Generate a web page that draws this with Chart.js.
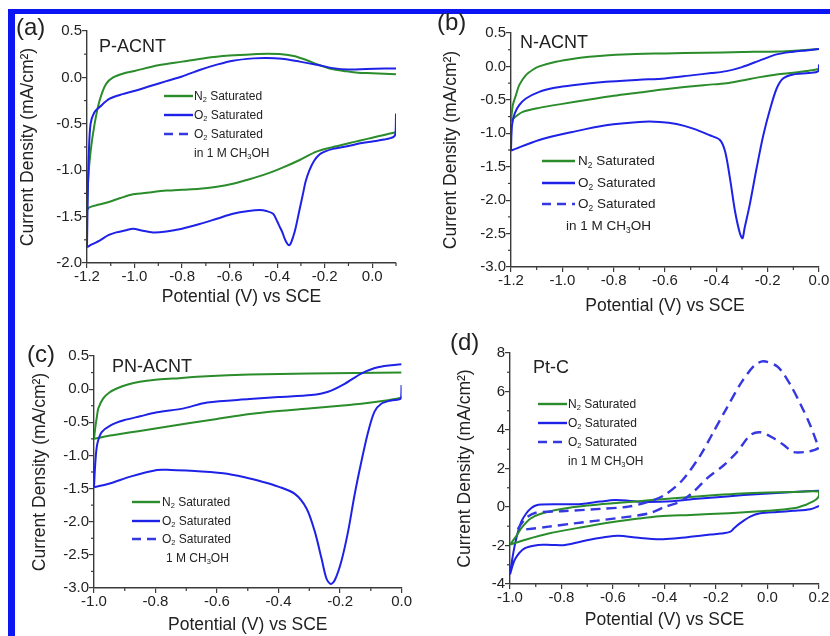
<!DOCTYPE html>
<html>
<head>
<meta charset="utf-8">
<script src="https://cdn.jsdelivr.net/npm/chart.js@4.4.1/dist/chart.umd.min.js"></script>
<style>
  html, body { margin: 0; padding: 0; background: #fff; }
  body { width: 830px; height: 636px; position: relative; overflow: hidden;
         font-family: "Liberation Sans", Arial, sans-serif; color: #222; }
  #frame { position: absolute; left: 8px; top: 9px; width: 822px; height: 627px; box-sizing: border-box;
           border-top: 5px solid #0c16f5; border-left: 7px solid #0c16f5; }
  canvas { position: absolute; }
  .lbl { position: absolute; line-height: 1; white-space: nowrap; }
  .lbl sub { font-size: 0.62em; vertical-align: -0.3em; line-height: 0; }
  .leg-line { position: absolute; }
</style>
</head>
<body>
<div id="frame"></div>
<canvas id="pa" width="386" height="293" style="left:18px;top:15px"></canvas>
<canvas id="pb" width="389" height="299" style="left:441px;top:18px"></canvas>
<canvas id="pc" width="382" height="296" style="left:30px;top:340px"></canvas>
<canvas id="pd" width="375" height="294" style="left:455px;top:337px"></canvas>

<script>
// ---- data (potential V vs SCE, current density mA/cm2) ----
// each loop: forward (anodic) sweep first, then the return sweep

// (a) P-ACNT
const aN2V = [-1.2, -1.195, -1.185, -1.168, -1.147, -1.12, -1.09, -1.05, -1.0, -0.9, -0.8, -0.7, -0.6, -0.5, -0.44, -0.38, -0.33, -0.28, -0.23, -0.17, -0.12, -0.06, 0.0, 0.05, 0.1,
              0.1, 0.05, 0.0, -0.05, -0.1, -0.165, -0.235, -0.305, -0.375, -0.445, -0.52, -0.586, -0.66, -0.726, -0.8, -0.866, -0.94, -1.006, -1.06, -1.105, -1.15, -1.19, -1.2];
const aN2J = [-1.43, -1.1, -0.8, -0.5, -0.25, -0.07, 0.0, 0.04, 0.07, 0.13, 0.17, 0.21, 0.235, 0.25, 0.255, 0.25, 0.23, 0.19, 0.14, 0.09, 0.07, 0.05, 0.045, 0.04, 0.035,
              -0.59, -0.62, -0.65, -0.68, -0.71, -0.75, -0.8, -0.89, -0.97, -1.04, -1.1, -1.145, -1.18, -1.2, -1.21, -1.22, -1.24, -1.26, -1.3, -1.34, -1.37, -1.4, -1.43];
const aO2V = [-1.2, -1.197, -1.192, -1.185, -1.17, -1.147, -1.105, -1.05, -1.006, -0.93, -0.866, -0.8, -0.726, -0.65, -0.586, -0.5, -0.445, -0.38, -0.305, -0.24, -0.165, -0.1, -0.025, 0.05, 0.1,
              0.1, 0.098, 0.09, 0.05, 0.0, -0.05, -0.1, -0.165, -0.2, -0.222, -0.245, -0.264, -0.28, -0.291, -0.302, -0.312, -0.323, -0.333, -0.343, -0.35, -0.358, -0.368, -0.378, -0.389, -0.4, -0.417, -0.445, -0.473, -0.52, -0.586, -0.65, -0.726, -0.8, -0.866, -0.922, -0.97, -1.006, -1.04, -1.077, -1.11, -1.147, -1.18, -1.2];
const aO2J = [-1.83, -1.3, -0.8, -0.5, -0.38, -0.32, -0.23, -0.18, -0.15, -0.09, -0.04, 0.01, 0.08, 0.14, 0.18, 0.205, 0.21, 0.2, 0.17, 0.14, 0.1, 0.085, 0.09, 0.095, 0.095,
              -0.39, -0.6, -0.64, -0.67, -0.69, -0.71, -0.74, -0.77, -0.8, -0.83, -0.9, -1.0, -1.12, -1.25, -1.38, -1.5, -1.63, -1.72, -1.79, -1.81, -1.79, -1.74, -1.67, -1.61, -1.55, -1.47, -1.44, -1.43, -1.44, -1.47, -1.52, -1.58, -1.63, -1.66, -1.67, -1.65, -1.63, -1.65, -1.67, -1.7, -1.76, -1.8, -1.83];
const aXTicks = [-1.2, -1.0, -0.8, -0.6, -0.4, -0.2, 0.0];
const aYTicks = [-2.0, -1.5, -1.0, -0.5, 0.0, 0.5];

// (b) N-ACNT
const bN2V = [-1.2, -1.197, -1.193, -1.18, -1.168, -1.142, -1.115, -1.09, -1.025, -0.95, -0.895, -0.765, -0.6, -0.45, -0.3, -0.15, -0.08, 0.0,
              0.0, -0.05, -0.1, -0.165, -0.23, -0.3, -0.36, -0.45, -0.6, -0.7, -0.8, -0.9, -1.0, -1.09, -1.154, -1.185, -1.2];
const bN2J = [-0.82, -0.7, -0.58, -0.42, -0.28, -0.13, -0.05, 0.0, 0.07, 0.12, 0.145, 0.18, 0.195, 0.205, 0.215, 0.225, 0.24, 0.26,
              -0.04, -0.07, -0.095, -0.12, -0.16, -0.21, -0.25, -0.28, -0.34, -0.39, -0.44, -0.5, -0.56, -0.62, -0.68, -0.76, -0.82];
const bO2V = [-1.2, -1.198, -1.195, -1.185, -1.168, -1.142, -1.09, -1.03, -0.96, -0.83, -0.7, -0.6, -0.49, -0.42, -0.36, -0.3, -0.23, -0.165, -0.1, -0.05, 0.0,
              0.0, -0.002, -0.04, -0.1, -0.14, -0.165, -0.19, -0.217, -0.243, -0.27, -0.29, -0.298, -0.308, -0.327, -0.347, -0.366, -0.386, -0.425, -0.49, -0.555, -0.62, -0.7, -0.83, -0.96, -1.09, -1.2];
const bO2J = [-1.26, -1.0, -0.85, -0.7, -0.58, -0.48, -0.38, -0.32, -0.28, -0.23, -0.2, -0.18, -0.13, -0.1, -0.07, -0.01, 0.09, 0.18, 0.22, 0.24, 0.26,
              0.03, -0.07, -0.1, -0.12, -0.18, -0.33, -0.63, -1.03, -1.52, -2.07, -2.42, -2.57, -2.5, -2.17, -1.67, -1.27, -1.1, -1.03, -0.93, -0.86, -0.83, -0.83, -0.88, -0.98, -1.1, -1.26];
const bXTicks = [-1.2, -1.0, -0.8, -0.6, -0.4, -0.2, 0.0];
const bYTicks = [-3.0, -2.5, -2.0, -1.5, -1.0, -0.5, 0.0, 0.5];

// (c) PN-ACNT
const cN2V = [-1.0, -0.995, -0.99, -0.986, -0.97, -0.95, -0.926, -0.89, -0.851, -0.8, -0.743, -0.634, -0.494, -0.3, -0.15, 0.0,
              0.0, -0.05, -0.131, -0.2, -0.293, -0.4, -0.5, -0.6, -0.688, -0.77, -0.851, -0.92, -0.96, -1.0];
const cN2J = [-0.75, -0.55, -0.4, -0.29, -0.14, -0.05, 0.01, 0.07, 0.11, 0.14, 0.16, 0.195, 0.22, 0.235, 0.245, 0.25,
              -0.13, -0.17, -0.22, -0.25, -0.29, -0.33, -0.38, -0.45, -0.51, -0.57, -0.63, -0.68, -0.71, -0.75];
const cO2V = [-1.0, -0.997, -0.993, -0.988, -0.975, -0.946, -0.903, -0.85, -0.795, -0.708, -0.632, -0.494, -0.4, -0.293, -0.239, -0.185, -0.131, -0.077, 0.0,
              0.0, -0.002, -0.034, -0.066, -0.088, -0.109, -0.131, -0.153, -0.174, -0.196, -0.217, -0.23, -0.244, -0.26, -0.282, -0.309, -0.347, -0.401, -0.45, -0.51, -0.58, -0.688, -0.75, -0.795, -0.882, -0.946, -1.0];
const cO2J = [-1.48, -1.2, -0.95, -0.8, -0.65, -0.545, -0.47, -0.41, -0.35, -0.29, -0.2, -0.15, -0.12, -0.09, -0.04, 0.08, 0.235, 0.33, 0.375,
              0.06, -0.14, -0.17, -0.22, -0.34, -0.65, -1.1, -1.6, -2.15, -2.6, -2.88, -2.94, -2.86, -2.56, -2.15, -1.8, -1.58, -1.47, -1.4, -1.33, -1.27, -1.23, -1.22, -1.22, -1.32, -1.42, -1.48];
const cXTicks = [-1.0, -0.8, -0.6, -0.4, -0.2, 0.0];
const cYTicks = [-3.0, -2.5, -2.0, -1.5, -1.0, -0.5, 0.0, 0.5];

// (d) Pt-C
const dN2V = [-1.0, -0.975, -0.956, -0.92, -0.88, -0.8, -0.7, -0.6, -0.5, -0.4, -0.3, -0.2, -0.1, 0.0, 0.1, 0.2,
              0.2, 0.19, 0.17, 0.15, 0.1, 0.0, -0.15, -0.3, -0.42, -0.5, -0.6, -0.72, -0.85, -0.94, -1.0];
const dN2J = [-1.95, -1.5, -1.1, -0.6, -0.35, -0.1, 0.08, 0.2, 0.3, 0.42, 0.52, 0.62, 0.7, 0.75, 0.78, 0.8,
              0.6, 0.4, 0.25, 0.12, -0.07, -0.2, -0.32, -0.41, -0.48, -0.6, -0.78, -1.05, -1.38, -1.7, -1.95];
const dO2V = [-1.0, -0.99, -0.975, -0.956, -0.935, -0.917, -0.9, -0.878, -0.8, -0.723, -0.65, -0.593, -0.54, -0.49, -0.42, -0.37, -0.287, -0.157, -0.028, 0.1, 0.2,
              0.2, 0.166, 0.1, 0.037, -0.028, -0.067, -0.106, -0.13, -0.144, -0.18, -0.222, -0.3, -0.352, -0.417, -0.5, -0.579, -0.64, -0.696, -0.786, -0.84, -0.89, -0.942, -0.98, -1.0];
const dO2J = [-3.5, -2.6, -1.6, -0.76, -0.3, -0.05, 0.08, 0.13, 0.14, 0.16, 0.28, 0.36, 0.33, 0.27, 0.27, 0.3, 0.41, 0.55, 0.68, 0.78, 0.85,
              0.05, -0.12, -0.2, -0.26, -0.33, -0.5, -0.84, -1.1, -1.28, -1.38, -1.43, -1.55, -1.62, -1.67, -1.6, -1.49, -1.58, -1.71, -1.97, -1.97, -1.97, -2.14, -2.7, -3.5];
const dMeV = [-0.97, -0.94, -0.9, -0.8, -0.65, -0.54, -0.46, -0.4, -0.33, -0.26, -0.21, -0.16, -0.1, -0.05, -0.015, 0.04, 0.09, 0.13, 0.166, 0.19, 0.2,
              0.18, 0.15, 0.1, 0.063, 0.024, -0.028, -0.067, -0.118, -0.17, -0.235, -0.287, -0.34, -0.4, -0.46, -0.59, -0.75, -0.85, -0.93, -0.97];
const dMeJ = [-1.15, -0.6, -0.3, -0.22, -0.1, 0.02, 0.28, 0.62, 1.4, 2.7, 3.9, 5.1, 6.5, 7.36, 7.57, 7.28, 6.32, 5.29, 4.25, 3.4, 3.1,
              2.95, 2.86, 2.86, 3.22, 3.57, 3.88, 3.73, 2.86, 2.17, 1.49, 0.79, 0.27, 0.0, -0.33, -0.59, -0.85, -1.02, -1.15, -1.15];
const dXTicks = [-1.0, -0.8, -0.6, -0.4, -0.2, 0.0, 0.2];
const dYTicks = [-4, -2, 0, 2, 4, 6, 8];

// ---- styling ----
const FONT = '"Liberation Sans", Arial, sans-serif';
const GREEN = '#2a8c2a';
const BLUE = '#1e22e6';
const DASHBLUE = '#3538e0';
const AXIS = '#3a3a3a';
const TEXT = '#222';

// zip potentials and currents; if brk is given the line is broken there
// (the trace is not drawn across the turning point at the positive end)
function pts(v, j, brk) {
  const out = v.map((x, i) => ({ x: x, y: j[i] }));
  if (brk) out.splice(brk, 0, { x: null, y: null });
  return out;
}

// short minor ticks half way between the labelled ones
const minorTicks = {
  id: 'minorTicks',
  afterDraw(chart) {
    const ctx = chart.ctx;
    ctx.save();
    ctx.strokeStyle = AXIS;
    ctx.lineWidth = 1.2;
    ['x', 'y'].forEach(k => {
      const s = chart.scales[k];
      const t = s.ticks.map(o => o.value);
      const step = t[1] - t[0];
      for (let v = t[0] - step / 2; v <= s.max + 1e-9; v += step) {
        if (v < s.min - 1e-9) continue;
        const p = s.getPixelForValue(v);
        ctx.beginPath();
        if (k === 'x') { ctx.moveTo(p, s.top); ctx.lineTo(p, s.top + 3); }
        else { ctx.moveTo(s.right, p); ctx.lineTo(s.right - 3, p); }
        ctx.stroke();
      }
    });
    ctx.restore();
  }
};

function line(data, color, dash) {
  return {
    data: data, showLine: true, spanGaps: false, borderColor: color, backgroundColor: color,
    borderWidth: dash ? 2.4 : 2, borderDash: dash || [], pointRadius: 0, tension: 0.3, fill: false
  };
}

function panel(id, box, xr, yr, xt, yt, ydec, sets) {
  new Chart(document.getElementById(id), {
    type: 'scatter',
    data: { datasets: sets },
    options: {
      responsive: false,
      animation: false,
      layout: { padding: { top: box.padTop, right: box.padRight, left: 0, bottom: 0 } },
      plugins: { legend: { display: false }, tooltip: { enabled: false } },
      scales: {
        x: {
          type: 'linear', min: xr[0], max: xr[1],
          afterBuildTicks: s => { s.ticks = xt.map(v => ({ value: v })); },
          afterFit: s => { s.height = box.xH; },
          grid: { drawOnChartArea: false, drawTicks: true, tickLength: 5, color: AXIS, lineWidth: 1.2 },
          border: { display: true, color: AXIS, width: 1.4 },
          ticks: { color: TEXT, font: { family: FONT, size: 15 }, padding: 0, autoSkip: false, maxRotation: 0,
                   callback: v => v.toFixed(1) },
          title: { display: true, text: 'Potential (V) vs SCE', color: TEXT, font: { family: FONT, size: 17.5 }, padding: 0 }
        },
        y: {
          type: 'linear', min: yr[0], max: yr[1],
          afterBuildTicks: s => { s.ticks = yt.map(v => ({ value: v })); },
          afterFit: s => { s.width = box.yW; },
          grid: { drawOnChartArea: false, drawTicks: true, tickLength: 5, color: AXIS, lineWidth: 1.2 },
          border: { display: true, color: AXIS, width: 1.4 },
          ticks: { color: TEXT, font: { family: FONT, size: 15 }, padding: 0, autoSkip: false,
                   callback: v => v.toFixed(ydec) },
          title: { display: true, text: 'Current Density (mA/cm²)', color: TEXT, font: { family: FONT, size: 17.5 }, padding: 0 }
        }
      }
    },
    plugins: [minorTicks]
  });
}

panel('pa', { padTop: 16, padRight: 8, yW: 69, xH: 45 }, [-1.2, 0.1], [-2.0, 0.5], aXTicks, aYTicks, 1, [
  line(pts(aO2V, aO2J, 25), BLUE),
  line(pts(aN2V, aN2J, 25), GREEN)
]);
panel('pb', { padTop: 15, padRight: 11, yW: 70, xH: 50 }, [-1.2, 0.0], [-3.0, 0.5], bXTicks, bYTicks, 1, [
  line(pts(bO2V, bO2J, 21), BLUE),
  line(pts(bN2V, bN2J, 18), GREEN)
]);
panel('pc', { padTop: 16, padRight: 10, yW: 64, xH: 48 }, [-1.0, 0.0], [-3.0, 0.5], cXTicks, cYTicks, 1, [
  line(pts(cO2V, cO2J, 19), BLUE),
  line(pts(cN2V, cN2J, 16), GREEN)
]);
panel('pd', { padTop: 16, padRight: 11, yW: 55, xH: 47 }, [-1.0, 0.2], [-4, 8], dXTicks, dYTicks, 0, [
  line(pts(dMeV, dMeJ), DASHBLUE, [10, 6]),
  line(pts(dN2V, dN2J), GREEN),
  line(pts(dO2V, dO2J, 21), BLUE)
]);

// ---- text overlays: panel letters, sample names, legends ----
function label(html, left, baseline, size) {
  const d = document.createElement('div');
  d.className = 'lbl';
  d.style.left = left + 'px';
  d.style.top = (baseline - 0.8465 * size) + 'px';
  d.style.fontSize = size + 'px';
  d.innerHTML = html;
  document.body.appendChild(d);
}

function legendLine(x0, x1, y, color, dashed) {
  const s = document.createElementNS('http://www.w3.org/2000/svg', 'svg');
  s.setAttribute('class', 'leg-line');
  s.setAttribute('width', x1 - x0);
  s.setAttribute('height', 6);
  s.style.left = x0 + 'px';
  s.style.top = (y - 3) + 'px';
  s.innerHTML = '<line x1="0" y1="3" x2="' + (x1 - x0) + '" y2="3" stroke="' + color + '" stroke-width="2.4"' +
    (dashed ? ' stroke-dasharray="9 6"' : '') + '/>';
  document.body.appendChild(s);
}

function legend(lx0, lx1, tx, rows, size, lastX, lastText) {
  const names = ['N<sub>2</sub> Saturated', 'O<sub>2</sub> Saturated', 'O<sub>2</sub> Saturated'];
  const cols = [GREEN, BLUE, DASHBLUE];
  for (let i = 0; i < 3; i++) {
    legendLine(lx0, lx1, rows[i], cols[i], i === 2);
    label(names[i], tx, rows[i] + 0.36 * size, size);
  }
  label(lastText, lastX, rows[3] + 0.36 * size, size);
}

label('(a)', 16, 35.5, 24);
label('(b)', 437, 30.5, 24);
label('(c)', 27, 362.5, 24);
label('(d)', 450, 350, 24);

label('P-ACNT', 99, 52, 18);
label('N-ACNT', 520, 48, 18);
label('PN-ACNT', 112, 372, 18);
label('Pt-C', 533, 373, 18);

legend(164, 193, 194, [96, 115, 134, 153], 12, 194, 'in 1 M CH<sub>3</sub>OH');
legend(542, 575, 578, [161, 183, 204, 226], 13.5, 566, 'in 1 M CH<sub>3</sub>OH');
legend(132, 160, 162, [502, 521, 539, 558], 12, 166, '1 M CH<sub>3</sub>OH');
legend(538, 567, 568, [404, 423, 442, 461], 12, 568, 'in 1 M CH<sub>3</sub>OH');
</script>
</body>
</html>
